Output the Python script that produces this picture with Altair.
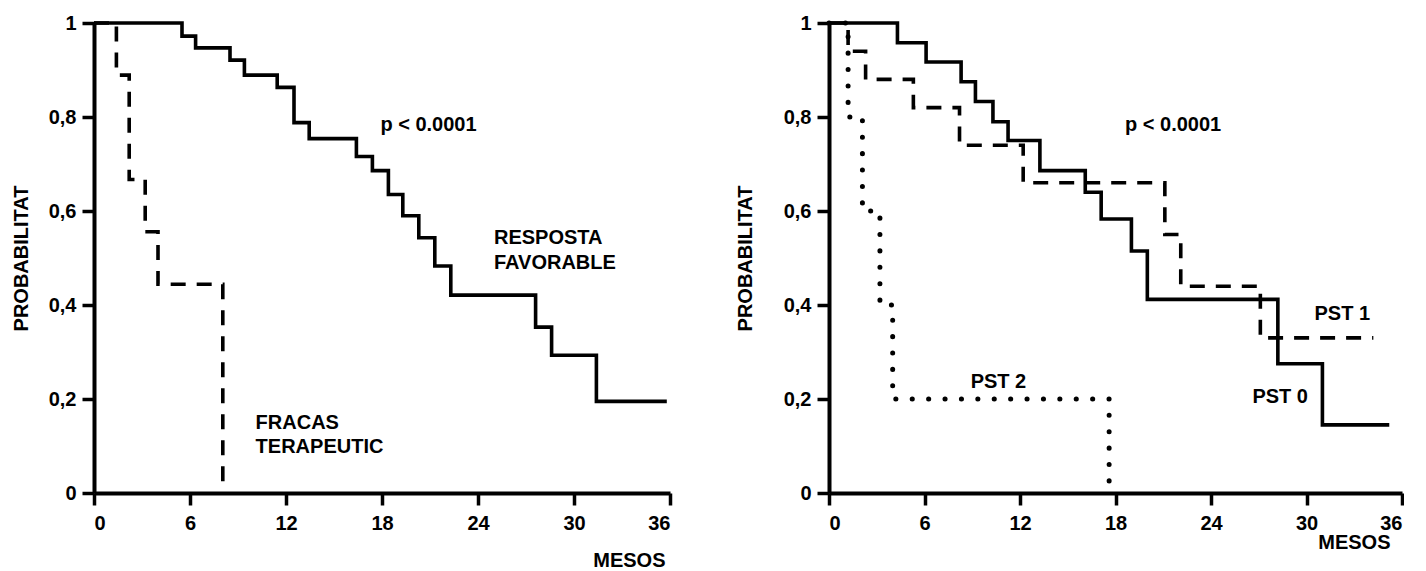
import altair as alt
import pandas as pd

# ---------------- data ----------------
# Left panel
fav_t = [0, 5.5, 6.35, 8.5, 9.4, 11.45, 12.5, 13.45, 16.4, 17.4, 18.4, 19.3, 20.3, 21.3, 22.3, 27.6, 28.6, 31.4, 35.8]
fav_s = [1, 0.972, 0.947, 0.921, 0.889, 0.863, 0.788, 0.754, 0.716, 0.686, 0.635, 0.59, 0.543, 0.483, 0.421, 0.353, 0.293, 0.195, 0.195]
frac_t = [0, 1.4, 2.2, 3.2, 4.0, 8.05]
frac_s = [1, 0.889, 0.667, 0.556, 0.444, 0.0]

# Right panel
pst0_t = [0, 4.3, 6.1, 8.3, 9.2, 10.3, 11.25, 13.25, 16.1, 17.1, 19.0, 20.0, 28.2, 31.0, 35.2]
pst0_s = [1, 0.958, 0.917, 0.875, 0.833, 0.79, 0.75, 0.686, 0.64, 0.583, 0.515, 0.412, 0.275, 0.145, 0.145]
pst1_t = [0, 1.2, 2.3, 5.3, 8.2, 12.2, 21.1, 22.1, 27.1, 34.2]
pst1_s = [1, 0.94, 0.88, 0.82, 0.74, 0.66, 0.55, 0.44, 0.33, 0.33]
pst2_t = [0, 1.2, 2.1, 3.2, 4.0, 17.6]
pst2_s = [1, 0.8, 0.6, 0.4, 0.2, 0.0]

left_labels = ["p < 0.0001", "RESPOSTA", "FAVORABLE", "FRACAS", "TERAPEUTIC"]
left_lab_t = [17.9, 25.0, 25.0, 10.1, 10.1]
left_lab_s = [0.782, 0.543, 0.489, 0.15, 0.098]

right_labels = ["p < 0.0001", "PST 1", "PST 0", "PST 2"]
right_lab_t = [18.6, 30.5, 26.6, 8.9]
right_lab_s = [0.784, 0.38, 0.205, 0.237]

x_ticks = [0, 6, 12, 18, 24, 30, 36]
y_ticks = [0, 0.2, 0.4, 0.6, 0.8, 1.0]

FONT = "Liberation Sans"
FS = 20
H = 470

ylab = "datum.value == 0 ? '0' : datum.value == 1 ? '1' : replace(format(datum.value, '.1f'), '.', ',')"


def panel(series, labels, lab_t, lab_s, ytitle_x, mesos_x, mesos_y, width):
    xs = alt.Scale(domain=[0, 36], nice=False, zero=False)
    ys = alt.Scale(domain=[0, 1], nice=False)
    xaxis = alt.Axis(values=x_ticks, format="d", title="MESOS", titleX=mesos_x, titleY=mesos_y,
                     titleAlign="right", titleBaseline="middle", labelPadding=8)
    yaxis = alt.Axis(values=y_ticks, labelExpr=ylab, title="PROBABILITAT", titleX=ytitle_x,
                     titleY=H / 2, titleAlign="center", titleBaseline="middle", titleAngle=270,
                     labelPadding=6)
    layers = []
    for t, s, dash, cap, sw in series:
        df = pd.DataFrame({"t": t, "s": s})
        mk = dict(interpolate="step-after", color="black", strokeWidth=sw, strokeCap=cap)
        if dash is not None:
            mk["strokeDash"] = dash
        layers.append(
            alt.Chart(df).mark_line(**mk).encode(
                x=alt.X("t:Q", scale=xs, axis=xaxis),
                y=alt.Y("s:Q", scale=ys, axis=yaxis),
            )
        )
    ldf = pd.DataFrame({"label": labels, "t": lab_t, "s": lab_s})
    layers.append(
        alt.Chart(ldf).mark_text(align="left", baseline="middle", font=FONT, fontSize=FS,
                                 fontWeight="bold", color="black").encode(
            x=alt.X("t:Q", scale=xs, axis=xaxis),
            y=alt.Y("s:Q", scale=ys, axis=yaxis),
            text="label:N",
        )
    )
    return alt.layer(*layers).properties(width=width, height=H)


left = panel(
    [(fav_t, fav_s, None, "butt", 3.6), (frac_t, frac_s, [15, 11], "butt", 3.6)],
    left_labels, left_lab_t, left_lab_s, -73, 571, 67, 576,
)
right = panel(
    [(pst0_t, pst0_s, None, "butt", 3.6), (pst1_t, pst1_s, [15, 11], "butt", 3.6),
     (pst2_t, pst2_s, [0.1, 16.3], "round", 5)],
    right_labels, right_lab_t, right_lab_s, -84, 561, 49, 573,
)

chart = alt.hconcat(left, right, spacing=61).properties(
    padding={"left": 11, "top": 13, "right": 0, "bottom": 0},
    background="white",
).configure_view(stroke=None).configure_axis(
    grid=False,
    domainColor="black", domainWidth=4,
    tickColor="black", tickWidth=3.5, tickSize=12,
    labelFont=FONT, labelFontSize=FS, labelFontWeight="bold", labelColor="black",
    titleFont=FONT, titleFontSize=FS, titleFontWeight="bold", titleColor="black",
)

chart.save("out.html", embed_options={"renderer": "svg", "actions": False})
